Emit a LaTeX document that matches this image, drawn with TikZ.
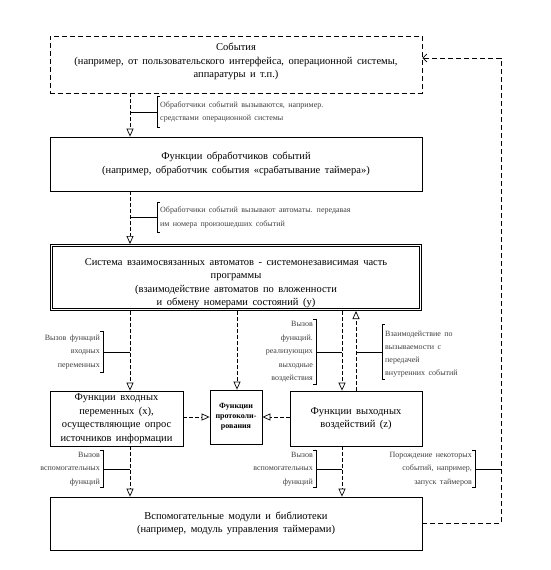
\documentclass[tikz,border=0pt]{standalone}
\usepackage{fontspec}
\setmainfont{Liberation Serif}[WordSpace=1.7]
\usetikzlibrary{arrows.meta,calc}
\begin{document}
\begin{tikzpicture}[x=1pt,y=-1pt,
  box/.style={draw, line width=0.8pt, inner sep=0pt, align=center, font=\fontsize{10.5}{13.5}\selectfont},
  dbox/.style={box, double, double distance=1.6pt, line width=0.6pt, outer sep=1.4pt},
  dashbox/.style={box, dash pattern=on 5pt off 3pt},
  conn/.style={line width=0.7pt, dash pattern=on 3.5pt off 2.5pt, -{Triangle[open,length=8pt,width=7pt]}},
  fb/.style={line width=0.7pt, dash pattern=on 5pt off 3pt, -{Straight Barb[length=4pt,width=8pt]}},
  lab/.style={inner xsep=3pt, inner ysep=0pt, text=black!75, font=\fontsize{8}{13.5}\selectfont},
  br/.style={line width=0.7pt},
]
\useasboundingbox (0,0) rectangle (550,570);

\coordinate (xA) at (130,0);
\coordinate (xB) at (237,0);
\coordinate (xC) at (342,0);
\coordinate (xD) at (356,0);
\coordinate (xR) at (501,0);
\coordinate (ya) at (0,58);

\node[dashbox, minimum width=372pt, minimum height=57pt] (ev) at (236,64.5)
  {События\\(например, от пользовательского интерфейса, операционной системы,\\аппаратуры и т.п.)\rule[-8pt]{0pt}{8pt}};
\node[box, minimum width=372pt, minimum height=54pt] (hnd) at (236,164)
  {Функции обработчиков событий\\(например, обработчик события «срабатывание таймера»)};
\node[dbox, minimum width=369.2pt, minimum height=64.2pt] (sys) at (236,277.5)
  {\rule{0pt}{18pt}Система взаимосвязанных автоматов - системонезависимая часть\\программы\\(взаимодействие автоматов по вложенности\\и обмену номерами состояний (y)};
\node[box, minimum width=133pt, minimum height=55pt] (inp) at (116.5,418.5)
  {Функции входных\\переменных (x),\\осуществляющие опрос\\источников информации};
\node[box, minimum width=52pt, minimum height=54pt, font=\bfseries\fontsize{8}{10}\selectfont] (log) at (236,417)
  {Функции\\протоколи-\\рования};
\node[box, minimum width=132pt, minimum height=55pt] (out) at (356,418.5)
  {Функции выходных\\воздействий (z)};
\node[box, minimum width=372pt, minimum height=53pt] (lib) at (236,523.5)
  {Вспомогательные модули и библиотеки\\(например, модуль управления таймерами)};

% connectors
\draw[conn] (xA |- ev.south) -- (xA |- hnd.north);
\draw[conn] (xA |- hnd.south) -- (xA |- sys.north);
\draw[conn] (xA |- sys.south) -- (xA |- inp.north);
\draw[conn] (xB |- sys.south) -- (xB |- log.north);
\draw[conn] (xC |- sys.south) -- (xC |- out.north);
\draw[conn] (xD |- out.north) -- (xD |- sys.south);
\draw[conn] (inp.east |- log.west) -- (log.west);
\draw[conn] (out.west |- log.east) -- (log.east);
\draw[conn] (xA |- inp.south) -- (xA |- lib.north);
\draw[conn] (xC |- out.south) -- (xC |- lib.north);
\draw[fb] (lib.east) -- (lib.east -| xR) -- (xR |- ya) -- (ev.east |- ya);

% labels
\node[lab, anchor=west, align=left, minimum height=30pt] (l1) at (157,112)
  {Обработчики событий вызываются, например.\\средствами операционной системы};
\node[lab, anchor=west, align=left, minimum height=29pt] (l2) at (157,217.5)
  {Обработчики событий вызывают автоматы. передавая\\им номера произошедших событий};
\node[lab, anchor=east, align=right, minimum height=40pt] (l3) at (103,352)
  {Вызов функций\\входных\\переменных};
\node[lab, anchor=east, align=right, minimum height=64pt] (l4) at (316,352)
  {Вызов\\функций.\\реализующих\\выходные\\воздействия};
\node[lab, anchor=west, align=left, minimum height=54pt, font=\fontsize{8}{13}\selectfont] (l5) at (382,352)
  {\rule{0pt}{9pt}Взаимодействие по\\вызываемости с\\передачей\\внутренних событий};
\node[lab, anchor=east, align=right, minimum height=36pt] (l6) at (103,469)
  {Вызов\\вспомогательных\\функций};
\node[lab, anchor=east, align=right, minimum height=36pt] (l7) at (316,469)
  {Вызов\\вспомогательных\\функций};
\node[lab, anchor=east, align=right, minimum height=36pt] (l8) at (475,469)
  {Порождение некоторых\\событий, например,\\запуск таймеров};

% brackets
\foreach \n in {l1,l2,l5}{
  \draw[br] ([xshift=3pt]\n.north west) -- (\n.north west) -- (\n.south west) -- ([xshift=3pt]\n.south west);
}
\foreach \n in {l3,l4,l6,l7,l8}{
  \draw[br] ([xshift=-3pt]\n.north east) -- (\n.north east) -- (\n.south east) -- ([xshift=-3pt]\n.south east);
}
% ticks
\draw[br] (xA |- l1.west) -- (l1.west);
\draw[br] (xA |- l2.west) -- (l2.west);
\draw[br] (l3.east) -- (xA |- l3.east);
\draw[br] (l4.east) -- (xC |- l4.east);
\draw[br] (xD |- l5.west) -- (l5.west);
\draw[br] (l6.east) -- (xA |- l6.east);
\draw[br] (l7.east) -- (xC |- l7.east);
\draw[br] (l8.east) -- (xR |- l8.east);
\end{tikzpicture}
\end{document}
